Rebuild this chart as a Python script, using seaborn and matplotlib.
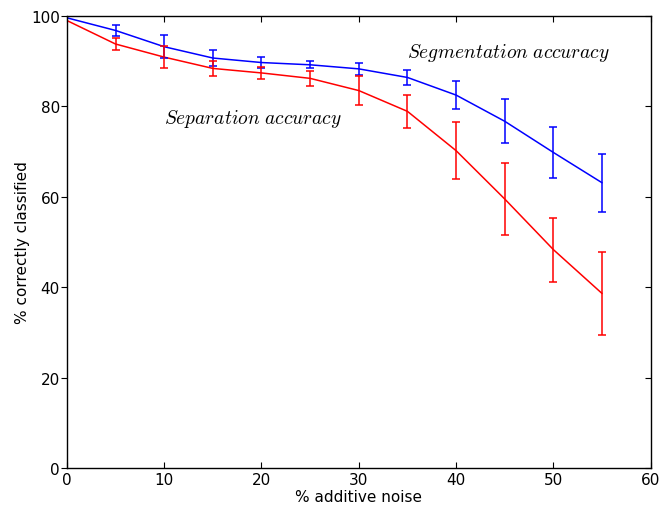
import numpy as np
import pandas as pd
import matplotlib
matplotlib.use("Agg")
import matplotlib.pyplot as plt
import seaborn as sns

noise = [0, 5, 10, 15, 20, 25, 30, 35, 40, 45, 50, 55]
seg_acc = [99.6, 96.8, 93.2, 90.7, 89.7, 89.2, 88.3, 86.4, 82.5, 76.7, 69.8, 63.1]
seg_err = [0.0, 1.3, 2.5, 1.7, 1.2, 0.8, 1.3, 1.7, 3.1, 4.9, 5.7, 6.4]
sep_acc = [99.0, 93.8, 90.9, 88.4, 87.4, 86.2, 83.5, 78.9, 70.2, 59.5, 48.3, 38.6]
sep_err = [0.0, 1.3, 2.4, 1.7, 1.3, 1.7, 3.3, 3.7, 6.3, 8.0, 7.1, 9.2]

sns.set_style("white")
plt.rcParams["font.family"] = ["DejaVu Sans"]
plt.rcParams["mathtext.fontset"] = "cm"
plt.rcParams["text.color"] = "black"
plt.rcParams["axes.labelcolor"] = "black"
plt.rcParams["xtick.color"] = "black"
plt.rcParams["ytick.color"] = "black"

fig = plt.figure(figsize=(6.62, 5.10), dpi=100)
ax = fig.add_axes([0.101, 0.0804, 0.882, 0.8863])

df = pd.DataFrame({
    "noise": noise * 2,
    "acc": seg_acc + sep_acc,
    "err": seg_err + sep_err,
    "kind": ["seg"] * len(noise) + ["sep"] * len(noise),
})
palette = {"seg": "#0000ff", "sep": "#ff0000"}
sns.lineplot(data=df, x="noise", y="acc", hue="kind", palette=palette,
             linewidth=1.1, legend=False, ax=ax, errorbar=None)
for k, g in df.groupby("kind"):
    g = g[g["err"] > 0]
    ax.errorbar(g["noise"], g["acc"], yerr=g["err"], fmt="none",
                ecolor=palette[k], elinewidth=1.1, capsize=3, capthick=1.1)

ax.set_xlim(0, 60)
ax.set_ylim(0, 100)
ax.set_xticks(range(0, 61, 10))
ax.set_yticks(range(0, 101, 20))
ax.set_xlabel("% additive noise", fontsize=11, labelpad=1)
ax.set_ylabel("% correctly classified", fontsize=11, labelpad=1)

for s in ax.spines.values():
    s.set_visible(True)
    s.set_color("black")
    s.set_linewidth(1.0)

ax.tick_params(axis="x", direction="in", top=True, bottom=True, length=4,
               width=0.8, labelsize=11, pad=3)
ax.tick_params(axis="y", direction="out", left=True, right=False, length=4,
               width=0.8, labelsize=11, pad=1)
sec = ax.secondary_yaxis("right")
sec.set_yticks(range(0, 101, 20))
sec.tick_params(direction="in", length=4, width=0.8, labelright=False)
sec.spines["right"].set_visible(False)

ax.text(35, 92, r"$Segmentation\ accuracy$", fontsize=14, va="center", ha="left")
ax.text(10, 77.5, r"$Separation\ accuracy$", fontsize=14, va="center", ha="left")

fig.savefig("out.png", dpi=100)
